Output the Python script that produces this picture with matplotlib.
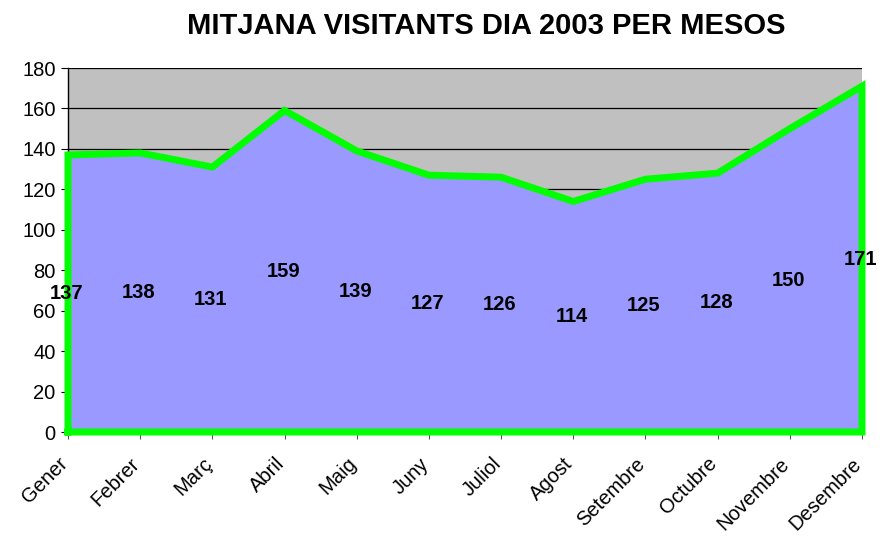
import matplotlib.pyplot as plt
import matplotlib.transforms as mtransforms
import numpy as np

plt.rcParams['font.family'] = ['Liberation Sans', 'DejaVu Sans']

# dades
mesos = ['Gener', 'Febrer', 'Març', 'Abril', 'Maig', 'Juny', 'Juliol',
         'Agost', 'Setembre', 'Octubre', 'Novembre', 'Desembre']
visitants = [137, 138, 131, 159, 139, 127, 126, 114, 125, 128, 150, 171]
yticks = [0, 20, 40, 60, 80, 100, 120, 140, 160, 180]

fig = plt.figure(figsize=(8.8, 5.4), dpi=100)
ax = fig.add_axes([68 / 880, 1 - 432 / 540, (862 - 68) / 880, (432 - 68) / 540])

x = np.arange(len(mesos))
ax.set_facecolor('#c0c0c0')
ax.set_xlim(0, len(mesos) - 1)
ax.set_ylim(0, 180)

for t in yticks[1:]:
    ax.axhline(t, color='black', lw=0.9, zorder=1)

# area + vora verda
ax.fill_between(x, 0, visitants, facecolor='#9999ff', edgecolor='none', zorder=2)
px = np.concatenate([[x[0]], x, [x[-1], x[0]]])
py = np.concatenate([[0], visitants, [0, 0]])
ax.plot(px, py, color='#00ff00', lw=5, solid_joinstyle='miter', clip_on=False, zorder=3)

for xi, v in zip(x, visitants):
    ax.text(xi - 0.02, v / 2, str(v), ha='center', va='center', fontsize=14.5,
            fontweight='bold', zorder=4, clip_on=False)

ax.set_xticks(x)
ax.set_xticklabels(mesos, rotation=45, ha='right', rotation_mode='anchor', fontsize=14.5)
ax.set_yticks(yticks)
ax.tick_params(axis='y', labelsize=14.5, length=5, direction='out', pad=4)
ax.tick_params(axis='x', length=5, direction='out', color='#555555', pad=8)

# desplacar etiquetes de l'eix x una mica a l'esquerra i avall
offset = mtransforms.ScaledTranslation(-10 / 100, -4 / 100, fig.dpi_scale_trans)
for lbl in ax.get_xticklabels():
    lbl.set_transform(lbl.get_transform() + offset)

for s in ['top', 'right']:
    ax.spines[s].set_visible(False)
ax.spines['left'].set_linewidth(1)
ax.spines['bottom'].set_linewidth(1)

fig.text(486 / 880, 1 - 26 / 540, 'MITJANA VISITANTS DIA 2003 PER MESOS',
         ha='center', va='center', fontsize=21, fontweight='bold')

fig.savefig('out.png', dpi=100)
